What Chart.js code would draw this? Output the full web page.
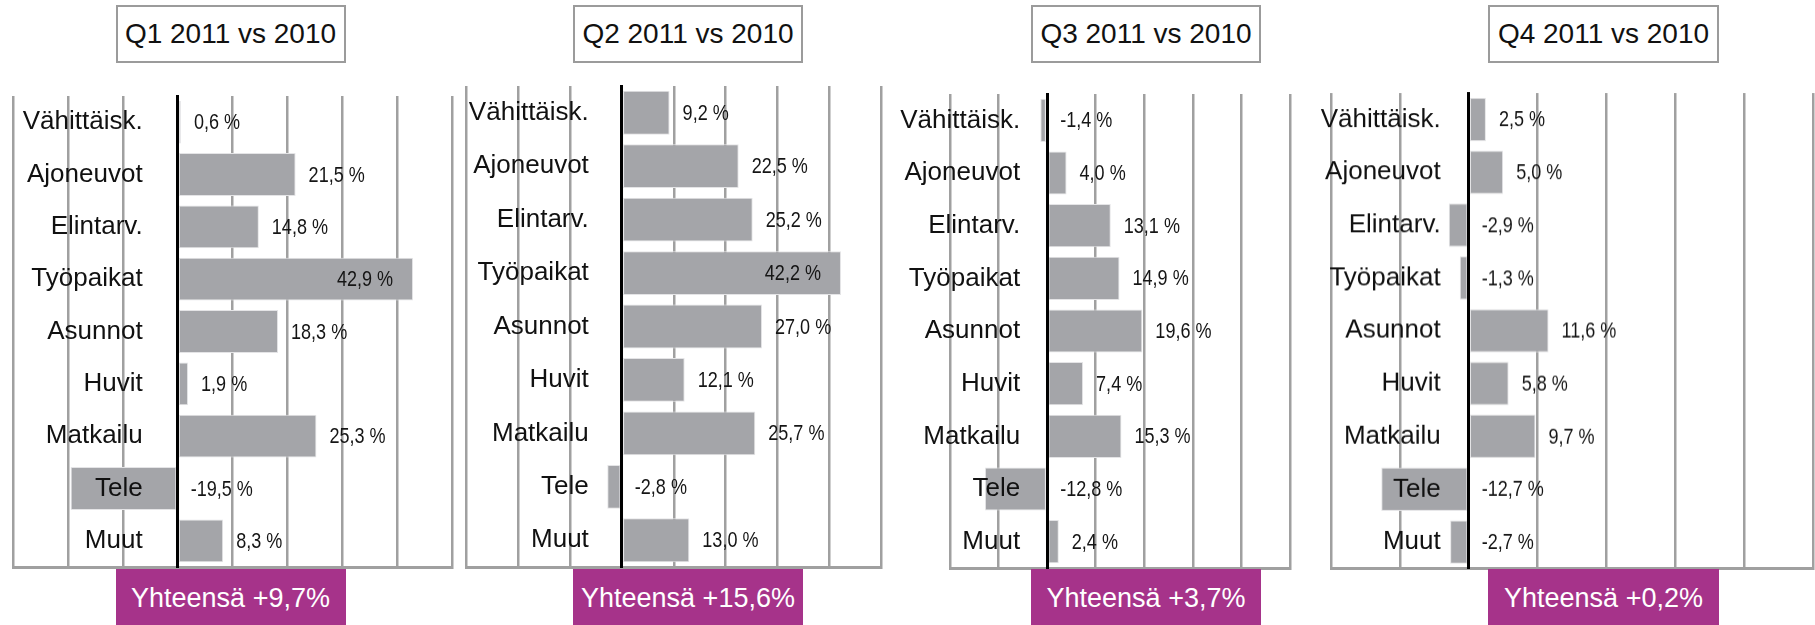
<!DOCTYPE html>
<html>
<head>
<meta charset="utf-8">
<script src="https://cdn.jsdelivr.net/npm/chart.js@4/dist/chart.umd.min.js"></script>
<style>
  html, body { margin: 0; padding: 0; background: #fff; }
  body { width: 1815px; height: 625px; position: relative; overflow: hidden; font-family: "Liberation Sans", Arial, sans-serif; }
  .panel { position: absolute; }
  .title { position: absolute; box-sizing: border-box; border: 2px solid #9b9b9b; background: #fff;
           display: flex; align-items: center; justify-content: center; font-size: 28px; color: #111; }
  .total { position: absolute; box-sizing: border-box; background: #a6338a; color: #fff;
           display: flex; align-items: center; justify-content: center; font-size: 27px; }
</style>
</head>
<body>
<script>
// ---- data ----
const categories = ['Vähittäisk.', 'Ajoneuvot', 'Elintarv.', 'Työpaikat', 'Asunnot', 'Huvit', 'Matkailu', 'Tele', 'Muut'];
const q1Values = [0.6, 21.5, 14.8, 42.9, 18.3, 1.9, 25.3, -19.5, 8.3];
const q2Values = [9.2, 22.5, 25.2, 42.2, 27.0, 12.1, 25.7, -2.8, 13.0];
const q3Values = [-1.4, 4.0, 13.1, 14.9, 19.6, 7.4, 15.3, -12.8, 2.4];
const q4Values = [2.5, 5.0, -2.9, -1.3, 11.6, 5.8, 9.7, -12.7, -2.7];
const panelTitles = ['Q1 2011 vs 2010', 'Q2 2011 vs 2010', 'Q3 2011 vs 2010', 'Q4 2011 vs 2010'];
const totalLabels = ['Yhteensä +9,7%', 'Yhteensä +15,6%', 'Yhteensä +3,7%', 'Yhteensä +0,2%'];
const axisMin = [-30, -30, -20, -20];
const axisMax = [50, 50, 50, 50];
const axisStep = 10;

// ---- layout (pixels) ----
const seriesList = [q1Values, q2Values, q3Values, q4Values];
const plotBoxes = [
  {l: 12.5, r: 451.5, t: 95.5, b: 566.5, pad: 35},
  {l: 465.5, r: 881, t: 85.5, b: 566.5, pad: 33},
  {l: 950, r: 1290, t: 94, b: 568, pad: 27},
  {l: 1331, r: 1813, t: 93, b: 567.5, pad: 28}
];
const titleBoxes = [
  {l: 115.5, r: 345.5}, {l: 573, r: 803}, {l: 1031, r: 1261}, {l: 1488, r: 1719}
];
const titleTop = 5, titleH = 58, totalTop = 569, totalH = 58;

const BAR = '#a4a5a9', GRID = '#a0a0a0';
const fmt = v => v.toFixed(1).replace('.', ',') + ' %';

const valueLabels = {
  id: 'valueLabels',
  afterDatasetsDraw(chart, args, opts) {
    const ctx = chart.ctx;
    const meta = chart.getDatasetMeta(0);
    const xs = chart.scales.x;
    const data = chart.data.datasets[0].data;
    const zero = xs.getPixelForValue(0);
    const SX = 0.82;
    ctx.save();
    // category labels (right-aligned, left of the zero line, above the bars)
    ctx.font = '26px "Liberation Sans", Arial, sans-serif';
    ctx.fillStyle = '#111';
    ctx.textBaseline = 'middle';
    ctx.textAlign = 'right';
    meta.data.forEach((bar, i) => {
      ctx.fillText(chart.data.labels[i], zero - opts.pad, bar.y);
    });
    // value labels
    ctx.font = '22px "Liberation Sans", Arial, sans-serif';
    ctx.fillStyle = '#151515';
    meta.data.forEach((bar, i) => {
      const v = data[i];
      const txt = fmt(v);
      const w = ctx.measureText(txt).width * SX;
      let left = xs.getPixelForValue(Math.max(v, 0)) + 13;
      if (left + w > chart.chartArea.right - 3) {
        left = xs.getPixelForValue(v) - 20 - w;
      }
      ctx.save();
      ctx.translate(left, bar.y + 1);
      ctx.scale(SX, 1);
      ctx.textAlign = 'left';
      ctx.fillText(txt, 0, 0);
      ctx.restore();
    });
    ctx.restore();
  }
};

const P = 4, PL = 80;
seriesList.forEach((values, k) => {
  const box = plotBoxes[k];
  const div = document.createElement('div');
  div.className = 'panel';
  div.style.left = (box.l - PL) + 'px';
  div.style.top = (box.t - P) + 'px';
  div.style.width = (box.r - box.l + PL + P) + 'px';
  div.style.height = (box.b - box.t + 2 * P) + 'px';
  const cv = document.createElement('canvas');
  div.appendChild(cv);
  document.body.appendChild(div);

  new Chart(cv, {
    type: 'bar',
    data: {
      labels: categories,
      datasets: [{
        data: values,
        backgroundColor: BAR,
        borderColor: '#e4e4e6',
        borderWidth: 1,
        borderSkipped: false,
        barPercentage: 0.82,
        categoryPercentage: 1.0
      }]
    },
    options: {
      indexAxis: 'y',
      responsive: true,
      maintainAspectRatio: false,
      animation: false,
      events: [],
      layout: { padding: { left: PL, right: P, top: P, bottom: P } },
      plugins: {
        legend: { display: false }, tooltip: { enabled: false }, title: { display: false },
        valueLabels: { pad: box.pad }
      },
      scales: {
        x: {
          type: 'linear',
          min: axisMin[k],
          max: axisMax[k],
          ticks: { display: false, stepSize: axisStep },
          grid: {
            drawTicks: false,
            color: c => (c.tick && c.tick.value === 0) ? 'rgba(0,0,0,0)' : GRID,
            lineWidth: 2.5
          },
          border: { display: true, color: GRID, width: 3 }
        },
        y: {
          position: { x: 0 },
          grid: { display: false, drawTicks: false },
          border: { display: true, color: '#000', width: 3, z: 2 },
          ticks: { display: false }
        }
      }
    },
    plugins: [valueLabels]
  });

  const t = document.createElement('div');
  t.className = 'title';
  t.textContent = panelTitles[k];
  t.style.left = titleBoxes[k].l + 'px';
  t.style.width = (titleBoxes[k].r - titleBoxes[k].l) + 'px';
  t.style.top = titleTop + 'px';
  t.style.height = titleH + 'px';
  document.body.appendChild(t);

  const s = document.createElement('div');
  s.className = 'total';
  s.textContent = totalLabels[k];
  s.style.left = titleBoxes[k].l + 'px';
  s.style.width = (titleBoxes[k].r - titleBoxes[k].l) + 'px';
  s.style.top = totalTop + 'px';
  s.style.height = totalH + 'px';
  document.body.appendChild(s);
});
</script>
</body>
</html>
